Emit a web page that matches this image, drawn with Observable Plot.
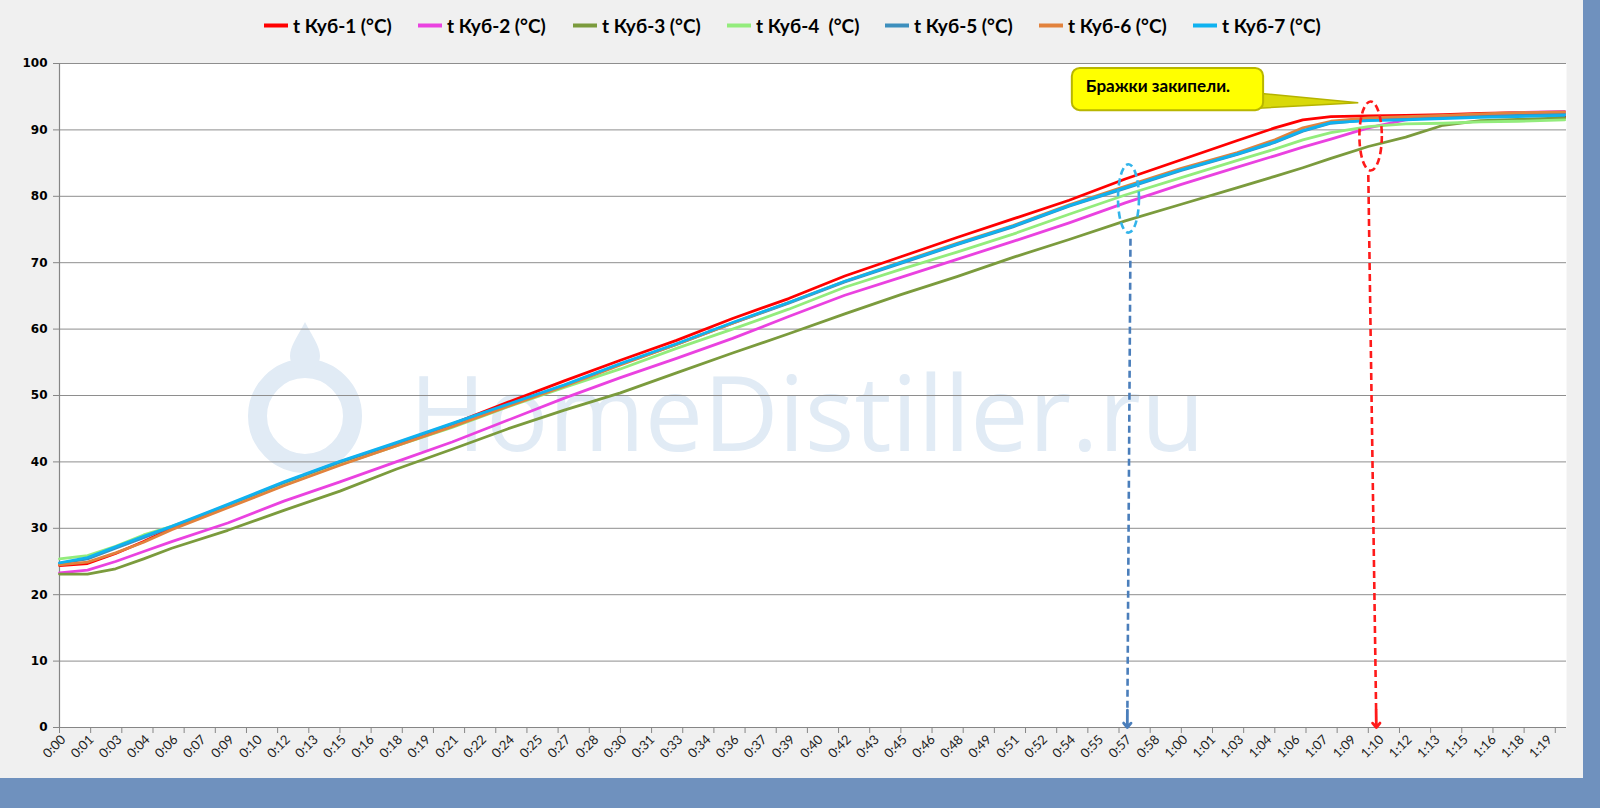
<!DOCTYPE html>
<html><head><meta charset="utf-8">
<script src="https://cdn.jsdelivr.net/npm/d3@7"></script>
<script src="https://cdn.jsdelivr.net/npm/@observablehq/plot@0.6"></script>
<style>
html,body{margin:0;padding:0;}
body{width:1600px;height:808px;background:#6f91be;position:relative;overflow:hidden;font-family:Lato,"Open Sans",sans-serif;}
#panel{position:absolute;left:0;top:0;width:1583px;height:778px;background:#f0f0f0;}
#chart{position:absolute;left:0;top:0;}
#legend{position:absolute;left:0;top:0;width:1583px;height:50px;}
.li{position:absolute;top:25px;transform:translateY(-50%);display:flex;align-items:center;font-weight:700;font-size:19px;color:#000;white-space:pre;font-family:Lato,sans-serif;}
.sw{width:24px;height:4px;margin-right:5px;}
</style></head>
<body>
<div id="panel"><div id="chart"></div><div id="legend"></div></div>
<script>
// ---- data (time in minutes, temperature °C) ----
const times = [0,1.5,3,4.5,6,9,12,15,18,21,24,27,30,33,36,39,42,45,48,51,54,57,60,63,65,66.5,68,70,72,74,76,78,80.5];
const kub1 = [24.4,24.7,26.2,28.0,30.0,33.3,36.7,39.8,42.7,45.7,49.0,52.2,55.3,58.3,61.6,64.6,68.0,70.9,73.8,76.6,79.4,82.6,85.5,88.4,90.3,91.5,92.0,92.1,92.2,92.3,92.5,92.6,92.0];
const kub2 = [23.3,23.7,25.0,26.5,28.0,30.8,34.1,37.0,40.0,43.0,46.3,49.6,52.7,55.6,58.6,61.9,65.1,67.8,70.5,73.2,76.0,79.0,81.8,84.4,86.1,87.4,88.6,90.3,91.5,92.0,92.3,92.6,92.8];
const kub3 = [23.1,23.1,23.9,25.4,27.0,29.7,32.7,35.6,38.9,41.9,45.0,47.8,50.4,53.4,56.4,59.3,62.3,65.2,67.9,70.8,73.5,76.3,78.8,81.3,83.0,84.3,85.7,87.5,88.9,90.7,91.4,91.6,91.8];
const kub4 = [25.4,25.9,27.3,29.0,30.3,33.3,36.5,39.6,42.4,45.2,48.3,51.2,54.0,57.1,60.0,63.0,66.3,69.0,71.6,74.3,77.3,80.2,82.8,85.4,87.1,88.5,89.6,90.5,90.9,91.0,91.2,91.3,91.5];
const kub5 = [24.7,25.4,27.0,28.6,30.2,33.5,36.9,40.0,42.8,45.7,48.6,51.5,54.7,57.7,60.9,63.9,67.1,69.9,72.7,75.4,78.5,81.2,83.9,86.3,88.1,89.8,91.0,91.5,91.7,91.9,92.1,92.2,92.4];
const kub6 = [24.5,24.9,26.3,27.9,29.8,33.1,36.4,39.5,42.4,45.3,48.4,51.4,54.6,57.7,60.9,64.0,67.2,70.1,72.9,75.6,78.7,81.5,84.2,86.6,88.5,90.3,91.3,91.8,92.0,92.2,92.4,92.6,92.7];
const kub7 = [24.8,25.6,27.2,28.8,30.3,33.6,37.0,40.1,42.9,45.8,48.7,51.6,54.8,57.8,61.0,64.0,67.2,70.0,72.8,75.5,78.6,81.3,84.0,86.4,88.2,89.9,91.1,91.4,91.5,91.7,91.9,92.0,92.2];
const seriesNames = ["t Куб-1 (°C)","t Куб-2 (°C)","t Куб-3 (°C)","t Куб-4  (°C)","t Куб-5 (°C)","t Куб-6 (°C)","t Куб-7 (°C)"];
const seriesColors = ["#ff0000","#ea42e0","#7b9b3d","#93ec7c","#3d8fbd","#e2823d","#0fb2f0"];
const yTicks = [0,10,20,30,40,50,60,70,80,90,100];
const labelMinutes = d3.range(0, 80, 1.5);           // axis labels every 90 s
const tickMinutes = d3.range(0, 49).map(i => i * 100 / 60); // tick marks every 100 s
const calloutText = "Бражки закипели.";
const watermarkText = "HomeDistiller.ru";
// annotations (time, temperature)
const blueEllipse = {t: 57.2, v: 79.6, dt: 0.56, dv: 5.15};
const redEllipse = {t: 70.15, v: 89.0, dt: 0.6, dv: 5.2};
const blueArrow = {t1: 57.28, v1: 73.6, t2: 57.11, v2: 0};
const redArrow = {t1: 70.0, v1: 83.2, t2: 70.43, v2: 0};
const callout = {t0: 54.17, t1: 64.4, v0: 92.9, v1: 99.25, tipT: 69.49, tipV: 94.0};

// ---- build ----
const allSeries = [kub1,kub2,kub3,kub4,kub5,kub6,kub7];
const rows = allSeries.flatMap((vals, i) => times.map((t, j) => ({t, v: vals[j], k: seriesNames[i]})));
const fmtTime = m => `${Math.floor(m / 60)}:${String(Math.floor(m % 60)).padStart(2, "0")}`;
const axisGray = "#868686";

function arrowMarks(a, color) {
  const shaftEnd = {t: a.t2 + (a.t1 - a.t2) * 0.03, v: 2.6};
  return [
    Plot.link([a], {x1: "t1", y1: "v1", x2: () => shaftEnd.t, y2: () => shaftEnd.v, stroke: color, strokeWidth: 2.6, strokeDasharray: "7,4"}),
    Plot.arrow([a], {x1: () => shaftEnd.t, y1: () => shaftEnd.v, x2: "t2", y2: "v2", stroke: color, strokeWidth: 2.8, headLength: 15, headAngle: 80})
  ];
}

const chart = Plot.plot({
  width: 1583, height: 778,
  marginLeft: 59, marginRight: 17, marginTop: 63, marginBottom: 51,
  style: {background: "transparent", fontFamily: "Lato, sans-serif", overflow: "visible"},
  x: {domain: [0, 80.6], axis: null},
  y: {domain: [0, 100], axis: null},
  color: {domain: seriesNames, range: seriesColors},
  marks: [
    Plot.frame({fill: "white", stroke: null}),
    Plot.text([watermarkText], {frameAnchor: "middle", dx: -6, dy: 22, text: d => d, fontSize: 104, fill: "#e1ebf5", fontFamily: "Open Sans", fontWeight: 400}),
    Plot.gridY(yTicks, {stroke: "#8e8e8e", strokeOpacity: 1, strokeWidth: 1}),
    Plot.ruleX([0], {stroke: axisGray, strokeWidth: 1.2}),
    Plot.ruleY([0], {stroke: axisGray, strokeWidth: 1.2}),
    Plot.axisY(yTicks, {tickSize: 6, tickPadding: 6, stroke: axisGray, fill: "#000", fontWeight: "bold", fontSize: 12, fontFamily: "DejaVu Sans"}),
    Plot.axisX(tickMinutes, {tickSize: 6, stroke: axisGray, tickFormat: () => ""}),
    Plot.axisX(labelMinutes, {tickSize: 0, tickPadding: 10, tickRotate: -45, tickFormat: fmtTime, fontSize: 13, fill: "#222", fontFamily: "Lato", dx: 4}),
    Plot.line(rows, {x: "t", y: "v", z: "k", stroke: "k", strokeWidth: 2.8, strokeLinejoin: "round"}),
    ...arrowMarks(blueArrow, "#4a7ebb"),
    ...arrowMarks(redArrow, "#ff1a1a")
  ]
});
document.getElementById("chart").appendChild(chart);

// overlays positioned with the plot's scales
const sx = chart.scale("x"), sy = chart.scale("y");
const svg = d3.select(chart);
// logo behind lines
const frame = chart.querySelector('[aria-label="frame"]');
const logo = d3.create("svg:g").attr("fill", "none").attr("stroke", "#e1ebf5");
logo.append("circle").attr("cx", 305).attr("cy", 416).attr("r", 47.5).attr("stroke-width", 19);
logo.append("path").attr("d", "M305,322 C298,336 290,346 290,356 A15,15 0 0 0 320,356 C320,346 312,336 305,322 Z").attr("fill", "#e1ebf5").attr("stroke", "none");
frame.after(logo.node());

// ellipses
for (const [e, c] of [[blueEllipse, "#33b4ea"], [redEllipse, "#ff1a1a"]]) {
  svg.append("ellipse")
    .attr("cx", sx.apply(e.t)).attr("cy", sy.apply(e.v))
    .attr("rx", Math.abs(sx.apply(e.t + e.dt) - sx.apply(e.t)))
    .attr("ry", Math.abs(sy.apply(e.v + e.dv) - sy.apply(e.v)))
    .attr("fill", "none").attr("stroke", c).attr("stroke-width", 2.6).attr("stroke-dasharray", "7,4");
}
// callout
{
  const x0 = sx.apply(callout.t0), x1 = sx.apply(callout.t1);
  const y0 = sy.apply(callout.v1), y1 = sy.apply(callout.v0);
  const tx = sx.apply(callout.tipT), ty = sy.apply(callout.tipV);
  const g = svg.append("g");
  g.append("path").attr("d", `M${x1 - 4},${y0 + (y1 - y0) * 0.6} L${tx},${ty} L${x1 - 4},${y1 - 2} Z`)
    .attr("fill", "#d9d90a").attr("stroke", "#b5b300").attr("stroke-width", 1.5);
  g.append("rect").attr("x", x0).attr("y", y0).attr("width", x1 - x0).attr("height", y1 - y0)
    .attr("rx", 8).attr("fill", "#ffff00").attr("stroke", "#b8b600").attr("stroke-width", 2);
  g.append("text").attr("x", x0 + 14).attr("y", y0 + 24).text(calloutText)
    .attr("text-anchor", "start")
    .attr("font-family", "Lato, sans-serif").attr("font-weight", 700).attr("font-size", 17).attr("fill", "#000");
}

// legend
const legendX = [264, 418, 573, 727, 885, 1039, 1193];
const legend = d3.select("#legend");
seriesNames.forEach((n, i) => {
  const it = legend.append("div").attr("class", "li").style("left", legendX[i] + "px");
  it.append("div").attr("class", "sw").style("background", seriesColors[i]);
  it.append("span").text(n);
});
</script>
</body></html>
